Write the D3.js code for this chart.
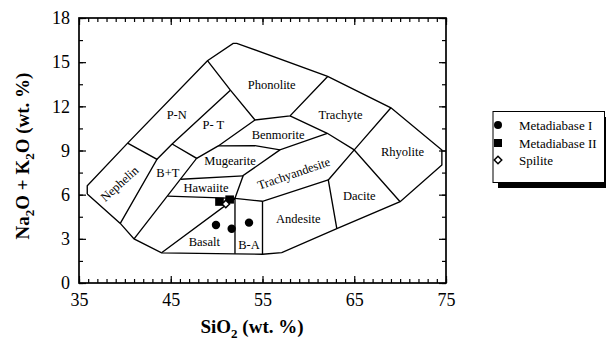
<!DOCTYPE html>
<html>
<head>
<meta charset="utf-8">
<script src="https://cdn.jsdelivr.net/npm/d3@7"></script>
<style>
  html, body { margin: 0; padding: 0; background: #fff; }
  svg { display: block; }
  text { font-family: "Liberation Serif", "Times New Roman", serif; fill: #000; }
</style>
</head>
<body>
<svg id="chart" width="606" height="340"></svg>
<script>
// ---- axis ticks ----
const xTickLabels = [35, 45, 55, 65, 75];
const yTickLabels = [0, 3, 6, 9, 12, 15, 18];

// ---- TAS field boundaries (SiO2 wt.%, Na2O+K2O wt.%) ----
const outline = [
  [35.9, 6.05], [35.9, 6.6], [40.3, 9.5], [49.0, 15.1], [51.8, 16.28], [52.2, 16.28],
  [62.1, 14.03], [69.0, 11.9], [74.55, 9.03], [74.55, 8.02], [70.0, 5.52],
  [63.1, 3.7], [57.1, 2.06], [55.0, 1.95], [52.0, 1.98], [44.0, 2.05],
  [41.0, 3.0], [39.5, 4.05], [35.9, 6.05]
];
const nephelinLine = [[39.5, 4.05], [43.5, 8.4], [40.3, 9.5]];
const pnLine = [[43.5, 8.4], [45.15, 9.44], [51.5, 13.1]];
const btLine = [[41.0, 3.0], [47.82, 8.47], [45.15, 9.44]];
const ptLine = [[47.82, 8.47], [50.18, 9.31], [54.18, 11.07]];
const phonoliteLine = [[49.0, 15.1], [51.5, 13.1], [54.18, 11.07], [58.0, 11.35], [62.1, 14.03]];
const benmoriteLine = [[50.18, 9.31], [54.18, 9.33], [56.9, 9.04], [62.06, 10.17]];
const trachyteLine = [[58.0, 11.35], [62.06, 10.17], [65.0, 9.04]];
const rhyoliteLine = [[69.0, 11.9], [65.0, 9.04], [70.0, 5.52]];
const daciteLine = [[65.0, 9.04], [62.17, 7.0], [63.1, 3.7]];
const trachyandesiteLine = [[62.17, 7.0], [55.0, 5.55], [52.0, 5.75]];
const mugeariteLine = [[56.9, 9.04], [52.9, 7.3], [52.0, 5.75]];
const hawaiiteTop = [[46.1, 7.05], [52.9, 7.28]];
const hawaiiteBase = [[44.65, 5.9], [52.0, 5.75]];
const basaltLine = [[44.0, 2.05], [52.0, 5.75], [52.0, 1.98]];
const baLine = [[55.0, 5.55], [55.0, 1.95]];

const boundaries = [outline, nephelinLine, pnLine, btLine, ptLine, phonoliteLine,
  benmoriteLine, trachyteLine, rhyoliteLine, daciteLine, trachyandesiteLine,
  mugeariteLine, hawaiiteTop, hawaiiteBase, basaltLine, baLine];

// ---- field names and their anchor points ----
const fieldNames  = ["Phonolite", "Trachyte", "Rhyolite", "Benmorite", "P-N", "P- T", "Mugearite",
                     "Nephelin", "B+T", "Hawaiite", "Trachyandesite", "Andesite", "Dacite", "Basalt", "B-A"];
const fieldSiO2   = [56.0, 63.5, 70.25, 56.7, 45.65, 49.64, 51.46, 39.4, 44.68, 48.84, 58.4, 58.9, 65.55, 48.66, 53.53];
const fieldAlkali = [13.45, 11.41, 8.92, 10.05, 11.41, 10.73, 8.29, 6.75, 7.49, 6.5, 7.45, 4.4, 5.91, 2.81, 2.58];
const fieldTilt   = [0, 0, 0, 0, 0, 0, 0, -42, 0, 0, -19, 0, 0, 0, 0];

// ---- samples ----
const metadiabaseI_SiO2 = [49.93, 51.64, 53.53];
const metadiabaseI_Alk  = [3.94, 3.69, 4.10];
const metadiabaseII_SiO2 = [50.31, 51.42];
const metadiabaseII_Alk  = [5.52, 5.67];
const spilite_SiO2 = [51.0];
const spilite_Alk  = [5.37];
const legendLabels = ["Metadiabase I", "Metadiabase II", "Spilite"];

(function draw() {
  const svg = d3.select("#chart");
  const plotLeft = 79, plotRight = 446, plotTop = 18, plotBottom = 283;
  const x = d3.scaleLinear().domain([35, 75]).range([plotLeft, plotRight]);
  const y = d3.scaleLinear().domain([0, 18]).range([plotBottom, plotTop]);

  const line = d3.line().x(d => x(d[0])).y(d => y(d[1]));

  // field boundaries
  svg.append("g").selectAll("path").data(boundaries).join("path")
    .attr("d", line)
    .attr("fill", "none")
    .attr("stroke", "#000")
    .attr("stroke-width", 1.35)
    .attr("stroke-linejoin", "miter");

  // field names
  svg.append("g").selectAll("text").data(fieldNames).join("text")
    .attr("transform", (d, i) => `translate(${x(fieldSiO2[i])},${y(fieldAlkali[i])}) rotate(${fieldTilt[i]})`)
    .attr("text-anchor", "middle")
    .attr("dy", "0.35em")
    .style("font-size", "12.5px")
    .text(d => d);

  // axes: major and minor ticks, all pointing inward
  const xMinor = d3.range(35, 75.01, 1);
  const yMinor = d3.range(0, 18.01, 1.5);

  function styleAxis(g) {
    g.select(".domain").remove();
    g.selectAll("line").attr("stroke", "#000").attr("stroke-width", 1.2);
    g.selectAll("text").style("font-family", "'Liberation Serif', serif").style("font-size", "18px").attr("fill", "#000");
  }

  svg.append("g").attr("transform", `translate(0,${plotBottom})`)
    .call(d3.axisBottom(x).tickValues(xMinor).tickSize(-4).tickFormat(""))
    .call(styleAxis);
  svg.append("g").attr("transform", `translate(0,${plotBottom})`)
    .call(d3.axisBottom(x).tickValues(xTickLabels).tickSize(-7).tickPadding(10).tickFormat(d3.format("d")))
    .call(styleAxis);
  svg.append("g").attr("transform", `translate(0,${plotTop})`)
    .call(d3.axisTop(x).tickValues(xMinor).tickSize(-4).tickFormat(""))
    .call(styleAxis);
  svg.append("g").attr("transform", `translate(0,${plotTop})`)
    .call(d3.axisTop(x).tickValues(xTickLabels).tickSize(-7).tickFormat(""))
    .call(styleAxis);

  svg.append("g").attr("transform", `translate(${plotLeft},0)`)
    .call(d3.axisLeft(y).tickValues(yMinor).tickSize(-4).tickFormat(""))
    .call(styleAxis);
  svg.append("g").attr("transform", `translate(${plotLeft},0)`)
    .call(d3.axisLeft(y).tickValues(yTickLabels).tickSize(-7).tickPadding(9).tickFormat(d3.format("d")))
    .call(styleAxis);
  svg.append("g").attr("transform", `translate(${plotRight},0)`)
    .call(d3.axisRight(y).tickValues(yMinor).tickSize(-4).tickFormat(""))
    .call(styleAxis);
  svg.append("g").attr("transform", `translate(${plotRight},0)`)
    .call(d3.axisRight(y).tickValues(yTickLabels).tickSize(-7).tickFormat(""))
    .call(styleAxis);

  // plot frame
  svg.append("rect")
    .attr("x", plotLeft).attr("y", plotTop)
    .attr("width", plotRight - plotLeft).attr("height", plotBottom - plotTop)
    .attr("fill", "none").attr("stroke", "#000").attr("stroke-width", 1.7);

  // axis titles
  const xTitle = svg.append("text")
    .attr("x", 252).attr("y", 333)
    .attr("text-anchor", "middle")
    .style("font-size", "19px").style("font-weight", "bold");
  xTitle.append("tspan").text("SiO");
  xTitle.append("tspan").attr("dy", 5).style("font-size", "13px").text("2");
  xTitle.append("tspan").attr("dy", -5).text(" (wt. %)");

  const yTitle = svg.append("text")
    .attr("transform", "translate(29,156) rotate(-90)")
    .attr("text-anchor", "middle")
    .style("font-size", "19px").style("font-weight", "bold");
  yTitle.append("tspan").text("Na");
  yTitle.append("tspan").attr("dy", 5).style("font-size", "13px").text("2");
  yTitle.append("tspan").attr("dy", -5).text("O + K");
  yTitle.append("tspan").attr("dy", 5).style("font-size", "13px").text("2");
  yTitle.append("tspan").attr("dy", -5).text("O (wt. %)");

  // sample symbols
  const marks = svg.append("g");
  marks.selectAll("circle").data(d3.range(metadiabaseI_SiO2.length)).join("circle")
    .attr("cx", i => x(metadiabaseI_SiO2[i]))
    .attr("cy", i => y(metadiabaseI_Alk[i]))
    .attr("r", 4.2).attr("fill", "#000");
  marks.selectAll("rect").data(d3.range(metadiabaseII_SiO2.length)).join("rect")
    .attr("x", i => x(metadiabaseII_SiO2[i]) - 4.3)
    .attr("y", i => y(metadiabaseII_Alk[i]) - 4.1)
    .attr("width", 8.6).attr("height", 8.2).attr("fill", "#000");
  const diamond = d3.symbol().type(d3.symbolDiamond2).size(36);
  marks.selectAll("path.sp").data(d3.range(spilite_SiO2.length)).join("path")
    .attr("class", "sp")
    .attr("transform", i => `translate(${x(spilite_SiO2[i])},${y(spilite_Alk[i])})`)
    .attr("d", diamond)
    .attr("fill", "#fff").attr("stroke", "#000").attr("stroke-width", 1.5);

  // legend with drop shadow
  const lg = svg.append("g");
  lg.append("rect").attr("x", 498).attr("y", 117).attr("width", 112).attr("height", 71).attr("fill", "#000");
  lg.append("rect").attr("x", 493).attr("y", 111.5).attr("width", 111.5).attr("height", 71)
    .attr("fill", "#fff").attr("stroke", "#000").attr("stroke-width", 1);
  const rowY = [125, 143, 160];
  lg.append("circle").attr("cx", 498).attr("cy", rowY[0]).attr("r", 4).attr("fill", "#000");
  lg.append("rect").attr("x", 494).attr("y", rowY[1] - 4).attr("width", 8).attr("height", 8).attr("fill", "#000");
  lg.append("path").attr("transform", `translate(498,${rowY[2]})`).attr("d", diamond)
    .attr("fill", "#fff").attr("stroke", "#000").attr("stroke-width", 1.5);
  lg.selectAll("text").data(legendLabels).join("text")
    .attr("x", 519).attr("y", (d, i) => rowY[i])
    .attr("dy", "0.35em")
    .style("font-size", "13px")
    .text(d => d);
})();
</script>
</body>
</html>
